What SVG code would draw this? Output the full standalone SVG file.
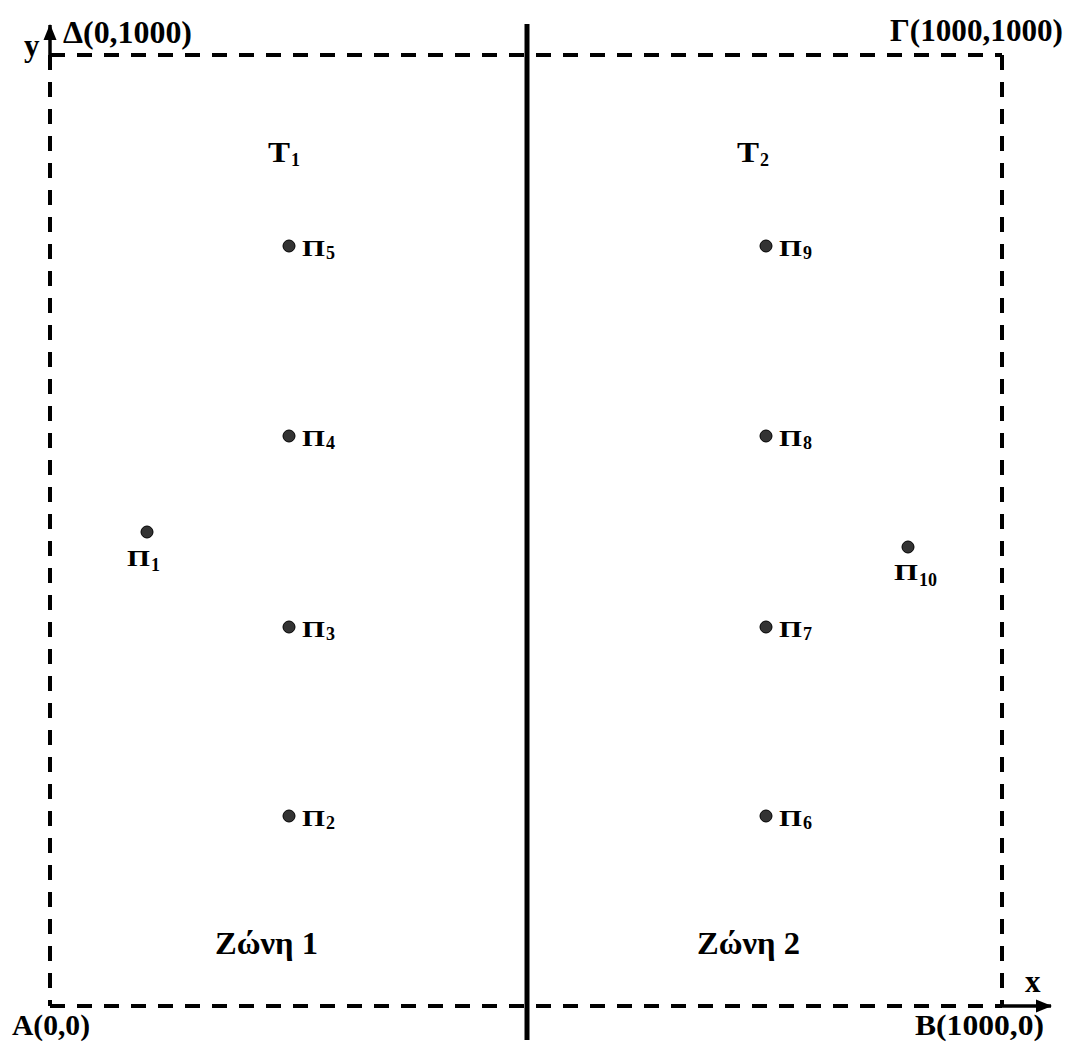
<svg xmlns="http://www.w3.org/2000/svg" width="1069" height="1044" viewBox="0 0 1069 1044">
<style>
text{font-family:"Liberation Serif","Times New Roman",serif;font-weight:bold;fill:#000}
.big{font-size:31px}
.ax{font-size:30px}
.t{font-size:30px}
.p{font-size:23px}
.s{font-size:18px}
.dash{stroke:#000;stroke-width:4;stroke-dasharray:15 12;fill:none}
.dot{fill:#333;stroke:#000;stroke-width:1}
</style>
<defs>
<marker id="ah" markerWidth="16" markerHeight="14" refX="15" refY="6.5" orient="auto" markerUnits="userSpaceOnUse" viewBox="0 0 16 13">
<path d="M0,0 L16,6.5 L0,13 z" fill="#000"/>
</marker>
</defs>
<rect width="1069" height="1044" fill="#fff"/>
<g id="connectors">
<line class="dash" x1="50" y1="55" x2="1002" y2="55"/>
<line class="dash" x1="50" y1="55" x2="50" y2="1006"/>
<line class="dash" x1="50" y1="1006" x2="1002" y2="1006"/>
<line class="dash" x1="1002" y1="55" x2="1002" y2="1006"/>
<line x1="50" y1="58" x2="50" y2="25" stroke="#000" stroke-width="3.5" marker-end="url(#ah)"/>
<line x1="999" y1="1006" x2="1051" y2="1006" stroke="#000" stroke-width="3.5" marker-end="url(#ah)"/>
<line x1="527" y1="24" x2="527" y2="1040" stroke="#000" stroke-width="5"/>
</g>
<g id="axis-labels">
<text class="big" x="24" y="56">y</text>
<text class="big" x="1025" y="992">x</text>
<text class="big" x="63" y="43" textLength="129" lengthAdjust="spacingAndGlyphs">Δ(0,1000)</text>
<text class="big" x="890" y="41" textLength="173" lengthAdjust="spacingAndGlyphs">Γ(1000,1000)</text>
<text class="ax" x="12" y="1035" textLength="78" lengthAdjust="spacingAndGlyphs">A(0,0)</text>
<text class="ax" x="915" y="1035" textLength="129" lengthAdjust="spacingAndGlyphs">B(1000,0)</text>
</g>
<g id="zone1">
<text class="big" x="215" y="954" textLength="103" lengthAdjust="spacingAndGlyphs">Ζώνη 1</text>
<text class="t" x="268" y="162" textLength="22" lengthAdjust="spacingAndGlyphs">T</text>
<text class="s" x="291" y="166">1</text>
</g>
<g id="zone2">
<text class="big" x="697" y="954" textLength="103" lengthAdjust="spacingAndGlyphs">Ζώνη 2</text>
<text class="t" x="737" y="162" textLength="22" lengthAdjust="spacingAndGlyphs">T</text>
<text class="s" x="760" y="166">2</text>
</g>
<g id="P1"><circle class="dot" cx="147" cy="532" r="6"/><text class="p" x="127" y="566" textLength="23" lengthAdjust="spacingAndGlyphs">Π</text><text class="s" x="151" y="571">1</text></g>
<g id="P2"><circle class="dot" cx="289" cy="816" r="6"/><text class="p" x="302" y="826" textLength="23" lengthAdjust="spacingAndGlyphs">Π</text><text class="s" x="326" y="829">2</text></g>
<g id="P3"><circle class="dot" cx="289" cy="627" r="6"/><text class="p" x="302" y="637" textLength="23" lengthAdjust="spacingAndGlyphs">Π</text><text class="s" x="326" y="640">3</text></g>
<g id="P4"><circle class="dot" cx="289" cy="436" r="6"/><text class="p" x="302" y="446" textLength="23" lengthAdjust="spacingAndGlyphs">Π</text><text class="s" x="326" y="449">4</text></g>
<g id="P5"><circle class="dot" cx="289" cy="246" r="6"/><text class="p" x="302" y="256" textLength="23" lengthAdjust="spacingAndGlyphs">Π</text><text class="s" x="326" y="259">5</text></g>
<g id="P6"><circle class="dot" cx="766" cy="816" r="6"/><text class="p" x="779" y="826" textLength="23" lengthAdjust="spacingAndGlyphs">Π</text><text class="s" x="803" y="829">6</text></g>
<g id="P7"><circle class="dot" cx="766" cy="627" r="6"/><text class="p" x="779" y="637" textLength="23" lengthAdjust="spacingAndGlyphs">Π</text><text class="s" x="803" y="640">7</text></g>
<g id="P8"><circle class="dot" cx="766" cy="436" r="6"/><text class="p" x="779" y="446" textLength="23" lengthAdjust="spacingAndGlyphs">Π</text><text class="s" x="803" y="449">8</text></g>
<g id="P9"><circle class="dot" cx="766" cy="246" r="6"/><text class="p" x="779" y="256" textLength="23" lengthAdjust="spacingAndGlyphs">Π</text><text class="s" x="803" y="259">9</text></g>
<g id="P10"><circle class="dot" cx="908" cy="547" r="6"/><text class="p" x="894" y="580" textLength="24" lengthAdjust="spacingAndGlyphs">Π</text><text class="s" x="919" y="586">10</text></g>
</svg>
